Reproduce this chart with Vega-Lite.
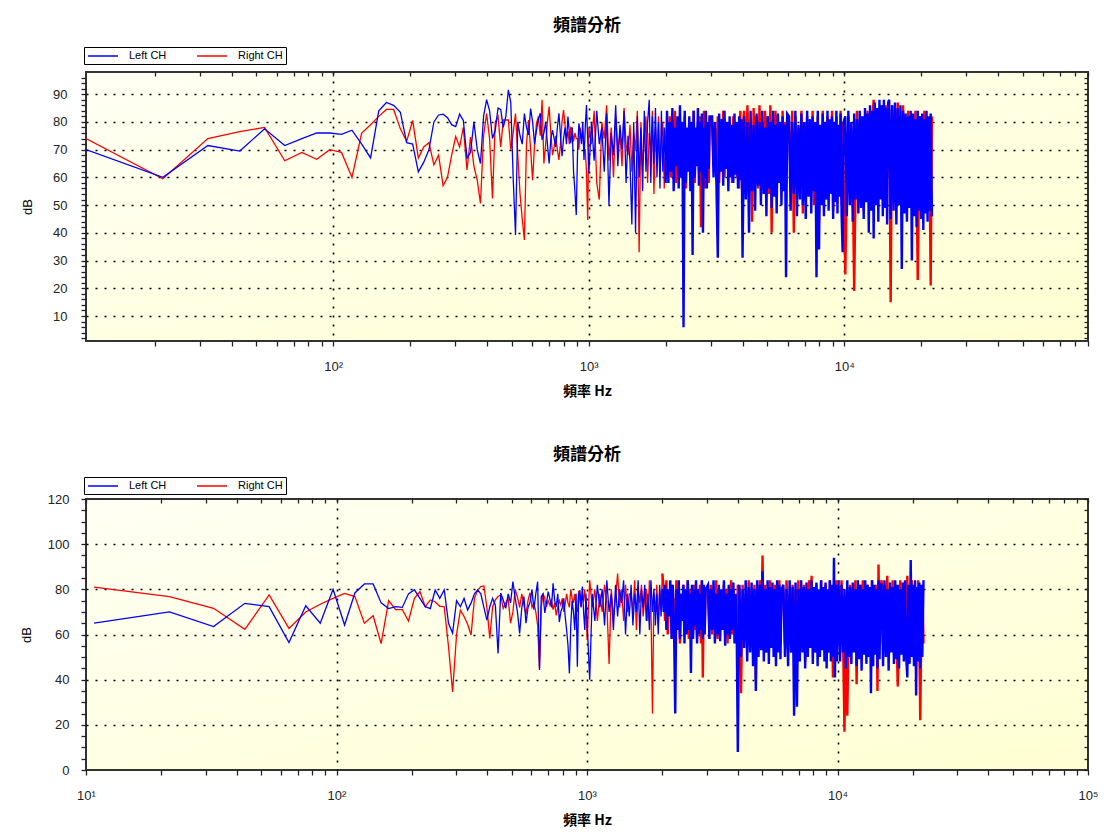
{
"$schema": "https://vega.github.io/schema/vega-lite/v6.json",
"background": "white",
"padding": {"left": 19, "top": 15, "right": 5, "bottom": 5},
"spacing": 46,
"resolve": {"scale": {"color": "independent"}},
"datasets": {"spec": [
{"f":10.77,"a":70,"b":74,"c":65,"d":81},
{"f":21.53,"a":60,"b":59.5,"c":70,"d":76.8},
{"f":32.3,"a":71.5,"b":74,"c":63.5,"d":71.6},
{"f":43.07,"a":69.5,"b":76.5,"c":73.8,"d":62.3},
{"f":53.83,"a":77.5,"b":78,"c":72.3,"d":77.5},
{"f":64.6,"a":71.5,"b":66,"c":56.4,"d":62.7},
{"f":75.37,"a":74,"b":69,"c":72.7,"d":70},
{"f":86.13,"a":76,"b":66.5,"c":65,"d":73.4},
{"f":96.9,"a":76,"b":70,"c":80,"d":76},
{"f":107.7,"a":75.5,"b":69,"c":64.2,"d":78.2},
{"f":118.4,"a":77,"b":60,"c":78.4,"d":76.8},
{"f":129.2,"a":72,"b":76,"c":82.4,"d":65},
{"f":140,"a":67,"b":79,"c":82.4,"d":68.3},
{"f":150.7,"a":84,"b":82,"c":74,"d":56},
{"f":161.5,"a":87,"b":84.5,"c":71.5,"d":75},
{"f":172.3,"a":86,"b":84.5,"c":72.3,"d":71},
{"f":183.1,"a":83.5,"b":77.5,"c":72,"d":71},
{"f":193.8,"a":72.5,"b":73,"c":78,"d":66},
{"f":204.6,"a":72,"b":80.5,"c":79.8,"d":76},
{"f":215.3,"a":62,"b":67,"c":76,"d":79},
{"f":226.1,"a":65.5,"b":71,"c":72.3,"d":72.3},
{"f":236.9,"a":70,"b":72.5,"c":71.5,"d":75.3},
{"f":247.7,"a":80,"b":64.5,"c":79.7,"d":74.5},
{"f":258.4,"a":82.5,"b":68,"c":76,"d":72.5},
{"f":269.2,"a":82.8,"b":57,"c":79.8,"d":72.3},
{"f":280,"a":81.5,"b":60,"c":65,"d":54.6},
{"f":290.7,"a":79,"b":68,"c":60.6,"d":34.6},
{"f":301.5,"a":78.3,"b":74.7,"c":75,"d":60},
{"f":312.3,"a":82.8,"b":71,"c":72.3,"d":70.8},
{"f":323,"a":80.5,"b":78,"c":76,"d":68},
{"f":333.8,"a":67,"b":62.7,"c":70.9,"d":64.5},
{"f":344.6,"a":69,"b":74.5,"c":74,"d":59.8},
{"f":355.3,"a":80,"b":64,"c":78,"d":76},
{"f":366.1,"a":70,"b":59,"c":79.7,"d":79.7},
{"f":376.9,"a":65,"b":50.6,"c":78,"d":81.2},
{"f":387.6,"a":82,"b":75,"c":72,"d":81.5},
{"f":398.4,"a":88,"b":83,"c":66.4,"d":72},
{"f":409.2,"a":84,"b":74,"c":72.3,"d":58.3},
{"f":420,"a":74,"b":52.4,"c":76,"d":72.3},
{"f":430.7,"a":77,"b":80,"c":73,"d":75.3},
{"f":441.5,"a":85,"b":82,"c":51.6,"d":76.8},
{"f":452.3,"a":84.5,"b":71,"c":78.4,"d":77.5},
{"f":463,"a":78,"b":80.7,"c":75.3,"d":71.6},
{"f":473.8,"a":82,"b":80.7,"c":71.6,"d":74},
{"f":484.6,"a":91.6,"b":80.7,"c":78,"d":76},
{"f":495.3,"a":87,"b":70,"c":74,"d":65},
{"f":506.1,"a":60,"b":76,"c":83.4,"d":70},
{"f":516.9,"a":39.2,"b":83,"c":76,"d":80},
{"f":527.6,"a":80,"b":68,"c":70,"d":76.5},
{"f":538.4,"a":75,"b":54,"c":60.5,"d":72},
{"f":549.2,"a":72,"b":45,"c":72,"d":78},
{"f":559.9,"a":83,"b":37.4,"c":76.8,"d":73},
{"f":570.7,"a":78,"b":72,"c":65,"d":69},
{"f":581.5,"a":75.3,"b":80.7,"c":72,"d":75},
{"f":592.2,"a":84.8,"b":70,"c":74.3,"d":78.5},
{"f":603,"a":80,"b":59,"c":80,"d":72},
{"f":613.8,"a":72,"b":72,"c":71,"d":74},
{"f":624.5,"a":77,"b":79.5,"c":78,"d":70},
{"f":635.3,"a":81,"b":82,"c":83.4,"d":64},
{"f":646.1,"a":83.1,"b":75,"c":44.3,"d":45},
{"f":656.8,"a":73.5,"b":88,"c":76.8,"d":72.3},
{"f":667.6,"a":76,"b":65,"c":78,"d":78.2},
{"f":678.4,"a":80,"b":72,"c":69.6,"d":76},
{"f":689.1,"a":72,"b":80,"c":74,"d":72.3},
{"f":699.9,"a":65,"b":85.5,"c":79,"d":75},
{"f":710.7,"a":74,"b":76,"c":76,"d":73},
{"f":721.4,"a":77,"b":68,"c":72,"d":75},
{"f":732.2,"a":74,"b":71,"c":82.7,"d":71},
{"f":743,"a":71,"b":75,"c":75,"d":74},
{"f":753.7,"a":78,"b":70,"c":72.3,"d":68.5},
{"f":764.5,"a":83.1,"b":66.3,"c":78,"d":72},
{"f":775.3,"a":75,"b":72,"c":65.5,"d":75},
{"f":786,"a":67.6,"b":80,"c":70,"d":73},
{"f":796.8,"a":74,"b":84.3,"c":72,"d":76},
{"f":807.6,"a":78,"b":79,"c":76,"d":70},
{"f":818.3,"a":72,"b":74,"c":68,"d":73.6},
{"f":829.1,"a":81.9,"b":76.5,"c":62,"d":78},
{"f":839.9,"a":76,"b":72,"c":55,"d":74},
{"f":850.6,"a":72.3,"b":78,"c":42.8,"d":72},
{"f":861.4,"a":78,"b":77.7,"c":64,"d":80},
{"f":872.2,"a":62,"b":73,"c":75,"d":76},
{"f":882.9,"a":55,"b":76,"c":70,"d":74},
{"f":893.7,"a":46.4,"b":74,"c":62,"d":78},
{"f":904.5,"a":70,"b":74,"c":78,"d":72},
{"f":915.2,"a":79.5,"b":70,"c":45.7,"d":70},
{"f":926,"a":76,"b":78,"c":77,"d":79.3},
{"f":936.8,"a":72,"b":74,"c":79.6,"d":75},
{"f":947.5,"a":80,"b":76.5,"c":72.3,"d":72},
{"f":958.3,"a":66.3,"b":70,"c":81.2,"d":78},
{"f":969.1,"a":78,"b":70,"c":70,"d":74.8},
{"f":979.8,"a":86.1,"b":62,"c":62,"d":80},
{"f":990.6,"a":74,"b":44.6,"c":78,"d":72},
{"f":1001.4,"a":61.5,"b":78,"c":65,"d":57.6},
{"f":1025,"a":80,"b":72,"c":40,"d":84},
{"f":1050,"a":66,"b":84,"c":78,"d":72},
{"f":1075,"a":84,"b":58,"c":66,"d":80},
{"f":1100,"a":72,"b":52,"c":82,"d":66},
{"f":1125,"a":78,"b":80,"c":72,"d":78},
{"f":1150,"a":62,"b":74,"c":80,"d":70},
{"f":1175,"a":83,"b":86,"c":64,"d":82},
{"f":1200,"a":50,"b":66,"c":84,"d":74},
{"f":1225,"a":76,"b":78,"c":70,"d":47},
{"f":1250,"a":68,"b":60,"c":78,"d":80},
{"f":1275,"a":86,"b":82,"c":62,"d":68},
{"f":1300,"a":64,"b":70,"c":82,"d":76},
{"f":1325,"a":79,"b":76,"c":68,"d":87},
{"f":1350,"a":70,"b":64,"c":80,"d":72},
{"f":1375,"a":84,"b":85,"c":74,"d":80},
{"f":1400,"a":58,"b":72,"c":84,"d":66},
{"f":1425,"a":75,"b":68,"c":60,"d":82},
{"f":1450,"a":66,"b":79,"c":78,"d":70},
{"f":1475,"a":43,"b":62,"c":68,"d":78},
{"f":1500,"a":80,"b":76,"c":82,"d":78},
{"f":1525,"a":40,"b":70,"c":64,"d":70},
{"f":1550,"a":82,"b":84,"c":78,"d":84},
{"f":1575,"a":60,"b":33,"c":70,"d":62},
{"f":1600,"a":78,"b":80,"c":84,"d":80},
{"f":1625,"a":55,"b":64,"c":60,"d":74},
{"f":1650,"a":84,"b":74,"c":80,"d":82},
{"f":1675,"a":62,"b":82,"c":72,"d":68},
{"f":1700,"a":80,"b":58,"c":82,"d":76},
{"f":1725,"a":88,"b":76,"c":66,"d":80},
{"f":1750,"a":58,"b":70,"c":78,"d":66},
{"f":1775,"a":82,"b":84,"c":62,"d":84},
{"f":1800,"a":65,"b":54,"c":84,"d":72},
{"f":1825,"a":85,"b":78,"c":70,"d":25},
{"f":1850,"a":60,"b":66,"c":80,"d":78},
{"f":1875,"a":80,"b":82,"c":64,"d":70},
{"f":1900,"a":56,"b":60,"c":78,"d":82},
{"f":1925,"a":84,"b":74,"c":60,"d":64},
{"f":1950,"a":62,"b":80,"c":82,"d":80},
{"f":1975,"a":78,"b":56,"c":68,"d":72},
{"f":2000,"a":58,"b":72,"c":80,"d":87},
{"f":2025,"a":84,"b":78,"c":70,"d":80},
{"f":2050,"a":58,"b":66,"c":82,"d":66},
{"f":2075,"a":80,"b":82,"c":62,"d":84},
{"f":2100,"a":62,"b":60,"c":80,"d":60},
{"f":2125,"a":85,"b":76,"c":68,"d":78},
{"f":2150,"a":55,"b":70,"c":84,"d":70},
{"f":2175,"a":78,"b":84,"c":58,"d":82},
{"f":2200,"a":64,"b":58,"c":82,"d":58},
{"f":2225,"a":82,"b":80,"c":64,"d":76},
{"f":2250,"a":56,"b":65,"c":25,"d":68},
{"f":2275,"a":86,"b":78,"c":80,"d":84},
{"f":2300,"a":60,"b":62,"c":62,"d":62},
{"f":2325,"a":80,"b":74,"c":84,"d":80},
{"f":2350,"a":6,"b":68,"c":58,"d":56},
{"f":2375,"a":84,"b":82,"c":78,"d":78},
{"f":2400,"a":58,"b":56,"c":66,"d":72},
{"f":2425,"a":78,"b":76,"c":82,"d":82},
{"f":2450,"a":62,"b":64,"c":56,"d":60},
{"f":2475,"a":82,"b":80,"c":80,"d":76},
{"f":2500,"a":55,"b":60,"c":60,"d":64},
{"f":2525,"a":80,"b":78,"c":84,"d":84},
{"f":2550,"a":32,"b":66,"c":62,"d":58},
{"f":2575,"a":84,"b":84,"c":78,"d":80},
{"f":2600,"a":60,"b":58,"c":43,"d":66},
{"f":2625,"a":78,"b":76,"c":82,"d":78},
{"f":2650,"a":64,"b":70,"c":58,"d":60},
{"f":2675,"a":85,"b":80,"c":80,"d":82},
{"f":2700,"a":57,"b":62,"c":64,"d":62},
{"f":2725,"a":80,"b":82,"c":84,"d":76},
{"f":2750,"a":62,"b":42,"c":56,"d":58},
{"f":2775,"a":83,"b":76,"c":80,"d":80},
{"f":2800,"a":40,"b":60,"c":60,"d":64},
{"f":2825,"a":78,"b":84,"c":78,"d":82},
{"f":2850,"a":60,"b":56,"c":62,"d":56},
{"f":2875,"a":84,"b":78,"c":84,"d":84},
{"f":2900,"a":56,"b":64,"c":58,"d":41},
{"f":2925,"a":80,"b":80,"c":82,"d":78},
{"f":2950,"a":63,"b":58,"c":60,"d":62},
{"f":2975,"a":82,"b":82,"c":80,"d":80},
{"f":3040,"a":82,"b":80,"c":82,"d":80},
{"f":3080,"a":60,"b":66,"c":58,"d":64},
{"f":3120,"a":80,"b":78,"c":80,"d":82},
{"f":3160,"a":58,"b":62,"c":62,"d":60},
{"f":3200,"a":31,"b":82,"c":84,"d":78},
{"f":3240,"a":83,"b":58,"c":56,"d":66},
{"f":3280,"a":62,"b":76,"c":78,"d":84},
{"f":3320,"a":81,"b":64,"c":60,"d":58},
{"f":3360,"a":57,"b":84,"c":82,"d":80},
{"f":3400,"a":84,"b":60,"c":57,"d":62},
{"f":3440,"a":63,"b":78,"c":80,"d":78},
{"f":3480,"a":80,"b":66,"c":62,"d":64},
{"f":3520,"a":55,"b":80,"c":84,"d":82},
{"f":3560,"a":82,"b":62,"c":55,"d":60},
{"f":3600,"a":60,"b":76,"c":78,"d":80},
{"f":3640,"a":79,"b":58,"c":60,"d":56},
{"f":3680,"a":58,"b":82,"c":82,"d":78},
{"f":3720,"a":83,"b":64,"c":58,"d":62},
{"f":3760,"a":61,"b":78,"c":80,"d":84},
{"f":3800,"a":80,"b":60,"c":62,"d":60},
{"f":3840,"a":56,"b":80,"c":83,"d":80},
{"f":3880,"a":82,"b":56,"c":56,"d":64},
{"f":3920,"a":59,"b":84,"c":78,"d":76},
{"f":3960,"a":81,"b":62,"c":60,"d":58},
{"f":4000,"a":31,"b":78,"c":8,"d":82},
{"f":4060,"a":82,"b":84,"c":82,"d":80},
{"f":4120,"a":52,"b":58,"c":50,"d":34},
{"f":4180,"a":80,"b":86,"c":80,"d":82},
{"f":4240,"a":40,"b":62,"c":54,"d":60},
{"f":4300,"a":84,"b":80,"c":84,"d":78},
{"f":4360,"a":55,"b":44,"c":48,"d":56},
{"f":4420,"a":79,"b":85,"c":81,"d":84},
{"f":4480,"a":48,"b":60,"c":52,"d":58},
{"f":4540,"a":83,"b":82,"c":83,"d":80},
{"f":4600,"a":57,"b":56,"c":46,"d":54},
{"f":4660,"a":80,"b":86,"c":80,"d":82},
{"f":4720,"a":50,"b":64,"c":35,"d":40},
{"f":4780,"a":84,"b":80,"c":84,"d":80},
{"f":4840,"a":54,"b":58,"c":50,"d":58},
{"f":4900,"a":78,"b":84,"c":82,"d":84},
{"f":4960,"a":46,"b":60,"c":53,"d":56},
{"f":5020,"a":82,"b":82,"c":88,"d":95},
{"f":5080,"a":56,"b":54,"c":48,"d":60},
{"f":5140,"a":80,"b":86,"c":80,"d":82},
{"f":5200,"a":49,"b":40,"c":52,"d":52},
{"f":5260,"a":84,"b":80,"c":84,"d":80},
{"f":5320,"a":53,"b":62,"c":47,"d":58},
{"f":5380,"a":79,"b":84,"c":81,"d":84},
{"f":5440,"a":47,"b":58,"c":54,"d":56},
{"f":5500,"a":83,"b":82,"c":83,"d":80},
{"f":5560,"a":58,"b":60,"c":50,"d":60},
{"f":5620,"a":80,"b":78,"c":80,"d":82},
{"f":5680,"a":50,"b":56,"c":46,"d":54},
{"f":5740,"a":82,"b":84,"c":84,"d":78},
{"f":5800,"a":55,"b":62,"c":52,"d":58},
{"f":5860,"a":79,"b":80,"c":82,"d":84},
{"f":5920,"a":24,"b":58,"c":49,"d":56},
{"f":5980,"a":83,"b":82,"c":80,"d":80},
{"f":6080,"a":82,"b":80,"c":82,"d":80},
{"f":6170,"a":48,"b":60,"c":50,"d":56},
{"f":6260,"a":80,"b":84,"c":80,"d":84},
{"f":6350,"a":54,"b":40,"c":46,"d":60},
{"f":6440,"a":84,"b":82,"c":84,"d":78},
{"f":6530,"a":46,"b":56,"c":52,"d":52},
{"f":6620,"a":79,"b":78,"c":81,"d":82},
{"f":6710,"a":52,"b":62,"c":24,"d":58},
{"f":6800,"a":83,"b":84,"c":83,"d":80},
{"f":6890,"a":50,"b":47,"c":28,"d":62},
{"f":6980,"a":80,"b":80,"c":80,"d":84},
{"f":7070,"a":45,"b":58,"c":48,"d":54},
{"f":7160,"a":84,"b":82,"c":84,"d":78},
{"f":7250,"a":53,"b":54,"c":52,"d":60},
{"f":7340,"a":81,"b":78,"c":81,"d":82},
{"f":7430,"a":47,"b":60,"c":45,"d":48},
{"f":7520,"a":82,"b":84,"c":83,"d":80},
{"f":7610,"a":55,"b":50,"c":50,"d":58},
{"f":7700,"a":80,"b":80,"c":80,"d":84},
{"f":7790,"a":24,"b":62,"c":54,"d":56},
{"f":7880,"a":84,"b":82,"c":84,"d":86},
{"f":7970,"a":34,"b":44,"c":47,"d":60},
{"f":8060,"a":79,"b":78,"c":81,"d":80},
{"f":8150,"a":50,"b":58,"c":52,"d":52},
{"f":8240,"a":83,"b":84,"c":83,"d":82},
{"f":8330,"a":46,"b":60,"c":46,"d":58},
{"f":8420,"a":80,"b":80,"c":80,"d":78},
{"f":8510,"a":52,"b":52,"c":50,"d":62},
{"f":8600,"a":84,"b":82,"c":84,"d":84},
{"f":8690,"a":48,"b":56,"c":53,"d":54},
{"f":8780,"a":81,"b":78,"c":81,"d":80},
{"f":8870,"a":54,"b":62,"c":48,"d":58},
{"f":8960,"a":82,"b":84,"c":83,"d":82},
{"f":9050,"a":45,"b":48,"c":45,"d":60},
{"f":9140,"a":80,"b":80,"c":80,"d":78},
{"f":9230,"a":51,"b":58,"c":52,"d":52},
{"f":9320,"a":84,"b":82,"c":84,"d":84},
{"f":9410,"a":47,"b":54,"c":48,"d":56},
{"f":9500,"a":79,"b":78,"c":82,"d":80},
{"f":9590,"a":53,"b":60,"c":50,"d":41},
{"f":9680,"a":83,"b":84,"c":94,"d":82},
{"f":9770,"a":46,"b":50,"c":41,"d":58},
{"f":9860,"a":33,"b":80,"c":82,"d":84},
{"f":9950,"a":80,"b":58,"c":48,"d":60},
{"f":10100,"a":82,"b":25,"c":84,"d":80},
{"f":10240,"a":46,"b":60,"c":48,"d":58},
{"f":10380,"a":84,"b":82,"c":82,"d":84},
{"f":10520,"a":50,"b":56,"c":52,"d":60},
{"f":10660,"a":80,"b":78,"c":80,"d":17},
{"f":10800,"a":44,"b":62,"c":45,"d":56},
{"f":10940,"a":83,"b":19,"c":84,"d":24},
{"f":11080,"a":52,"b":58,"c":50,"d":62},
{"f":11220,"a":81,"b":84,"c":81,"d":82},
{"f":11360,"a":47,"b":54,"c":47,"d":54},
{"f":11500,"a":84,"b":80,"c":83,"d":80},
{"f":11640,"a":49,"b":60,"c":52,"d":58},
{"f":11780,"a":82,"b":82,"c":80,"d":84},
{"f":11920,"a":45,"b":48,"c":46,"d":38},
{"f":12060,"a":85,"b":78,"c":84,"d":78},
{"f":12200,"a":51,"b":62,"c":49,"d":60},
{"f":12340,"a":83,"b":84,"c":82,"d":82},
{"f":12480,"a":40,"b":56,"c":44,"d":56},
{"f":12620,"a":86,"b":80,"c":80,"d":84},
{"f":12760,"a":48,"b":58,"c":51,"d":52},
{"f":12900,"a":84,"b":82,"c":84,"d":80},
{"f":13040,"a":38,"b":88,"c":47,"d":60},
{"f":13180,"a":87,"b":80,"c":82,"d":82},
{"f":13320,"a":50,"b":60,"c":50,"d":58},
{"f":13460,"a":85,"b":84,"c":81,"d":78},
{"f":13600,"a":44,"b":54,"c":34,"d":56},
{"f":13740,"a":88,"b":82,"c":84,"d":84},
{"f":13880,"a":52,"b":62,"c":46,"d":62},
{"f":14020,"a":86,"b":86,"c":82,"d":80},
{"f":14160,"a":46,"b":58,"c":51,"d":58},
{"f":14300,"a":88,"b":84,"c":80,"d":82},
{"f":14440,"a":49,"b":56,"c":45,"d":35},
{"f":14580,"a":85,"b":86,"c":84,"d":91},
{"f":14720,"a":43,"b":60,"c":49,"d":56},
{"f":14860,"a":87,"b":84,"c":82,"d":82},
{"f":15000,"a":88,"b":84,"c":82,"d":84},
{"f":15200,"a":45,"b":15,"c":46,"d":56},
{"f":15400,"a":86,"b":86,"c":84,"d":82},
{"f":15600,"a":48,"b":56,"c":50,"d":60},
{"f":15800,"a":87,"b":84,"c":80,"d":86},
{"f":16000,"a":43,"b":60,"c":44,"d":54},
{"f":16200,"a":85,"b":87,"c":83,"d":80},
{"f":16400,"a":50,"b":54,"c":52,"d":58},
{"f":16600,"a":86,"b":82,"c":81,"d":84},
{"f":16800,"a":27,"b":58,"c":47,"d":52},
{"f":17000,"a":84,"b":86,"c":84,"d":82},
{"f":17200,"a":47,"b":52,"c":49,"d":60},
{"f":17400,"a":83,"b":80,"c":82,"d":37},
{"f":17600,"a":44,"b":60,"c":45,"d":56},
{"f":17800,"a":82,"b":84,"c":80,"d":84},
{"f":18000,"a":49,"b":56,"c":51,"d":58},
{"f":18200,"a":84,"b":82,"c":83,"d":80},
{"f":18400,"a":30,"b":58,"c":48,"d":54},
{"f":18600,"a":83,"b":80,"c":84,"d":82},
{"f":18800,"a":46,"b":54,"c":50,"d":60},
{"f":19000,"a":81,"b":84,"c":41,"d":86},
{"f":19200,"a":42,"b":60,"c":82,"d":56},
{"f":19400,"a":84,"b":23,"c":47,"d":80},
{"f":19600,"a":48,"b":56,"c":93,"d":58},
{"f":19800,"a":82,"b":82,"c":50,"d":84},
{"f":20000,"a":45,"b":58,"c":82,"d":52},
{"f":20200,"a":83,"b":80,"c":46,"d":82},
{"f":20400,"a":41,"b":52,"c":84,"d":60},
{"f":20600,"a":81,"b":84,"c":33,"d":80},
{"f":20800,"a":47,"b":56,"c":81,"d":56},
{"f":21000,"a":84,"b":82,"c":48,"d":84},
{"f":21200,"a":44,"b":58,"c":83,"d":58},
{"f":21400,"a":82,"b":80,"c":45,"d":22},
{"f":21600,"a":48,"b":60,"c":82,"d":60},
{"f":21800,"a":83,"b":21,"c":50,"d":82},
{"f":22050,"a":46,"b":82,"c":84,"d":56}
]},
"config": {
  "view": {"stroke": "#333333", "strokeWidth": 2, "fill": {"gradient": "linear", "x1": 0, "y1": 0, "x2": 1, "y2": 1, "stops": [{"offset": 0, "color": "#fffff4"}, {"offset": 1, "color": "#ffffd2"}]}},
  "axis": {"domain": false, "labelFont": "Liberation Sans", "labelFontSize": 13, "labelColor": "#222222", "tickColor": "#222222", "tickWidth": 1.3, "gridColor": "#000000", "gridDash": [2, 7], "gridWidth": 1.6, "titleColor": "#000000"},
  "legend": {"labelFont": "Liberation Sans", "labelFontSize": 11, "labelColor": "#000000"},
  "title": {"font": "Noto Sans CJK TC", "fontSize": 17, "fontWeight": "bold", "color": "#000000"}
},
"vconcat": [
{
  "width": 1002, "height": 269,
  "title": {"text": "頻譜分析", "offset": 12},
  "data": {"name": "spec"},
  "transform": [{"fold": ["a", "b"], "as": ["ch", "dB"]}],
  "encoding": {
    "color": {"field": "ch", "type": "nominal", "scale": {"domain": ["a", "b"], "range": ["#0000ff", "#ff0000"]},
      "legend": {"orient": "none", "legendX": -2, "legendY": -25, "direction": "horizontal", "title": null,
        "labelExpr": "datum.label == 'a' ? 'Left CH' : 'Right CH'", "symbolType": "M-1,0H5", "symbolSize": 100, "symbolStrokeWidth": 1.5,
        "strokeColor": "#000000", "fillColor": "#ffffff", "padding": 3, "columnPadding": 27, "labelOffset": 30}}
  },
  "layer": [
    {
      "transform": [{"filter": "datum.ch == 'b' && datum.f <= 2000"}],
      "mark": {"type": "line", "clip": true, "strokeWidth": 1.3},
      "encoding": {
        "x": {"field": "f", "type": "quantitative", "scale": {"type": "log", "domain": [10.77, 90000], "nice": false},
          "axis": {"orient": "bottom", "values": [20,30,40,50,60,70,80,90,100,200,300,400,500,600,700,800,900,1000,2000,3000,4000,5000,6000,7000,8000,9000,10000,20000,30000,40000,50000,60000,70000,80000,90000],
            "labelExpr": "datum.value == 10 ? '10¹' : datum.value == 100 ? '10²' : datum.value == 1000 ? '10³' : datum.value == 10000 ? '10⁴' : datum.value == 100000 ? '10⁵' : ''",
            "labelOverlap": false, "labelFlush": false, "tickSize": 5, "labelPadding": 14,
            "grid": true, "gridOpacity": {"condition": {"test": "datum.value == 100 || datum.value == 1000 || datum.value == 10000", "value": 1}, "value": 0},
            "title": "頻率 Hz", "titleFont": "Noto Sans CJK TC", "titleFontSize": 14, "titleFontWeight": "bold", "titlePadding": 11}},
        "y": {"field": "dB", "type": "quantitative", "scale": {"domain": [1, 98], "nice": false, "zero": false},
          "axis": {"orient": "left", "values": [2,4,6,8,10,12,14,16,18,20,22,24,26,28,30,32,34,36,38,40,42,44,46,48,50,52,54,56,58,60,62,64,66,68,70,72,74,76,78,80,82,84,86,88,90,92,94,96],
            "labelExpr": "datum.value % 10 == 0 ? datum.label : ''", "labelOverlap": false, "labelFlush": false,
            "tickSize": 5, "labelPadding": 14,
            "grid": true, "gridOpacity": {"condition": {"test": "datum.value % 10 == 0", "value": 1}, "value": 0},
            "title": "dB", "titleFont": "Liberation Sans", "titleFontSize": 13, "titleFontWeight": "normal", "titlePadding": 18}}
      }
    },
    {
      "transform": [{"filter": "datum.ch == 'b' && datum.f >= 2000"}],
      "mark": {"type": "line", "clip": true, "strokeWidth": 2.4},
      "encoding": {
        "x": {"field": "f", "type": "quantitative", "axis": null},
        "y": {"field": "dB", "type": "quantitative", "axis": null}
      }
    },
    {
      "transform": [{"filter": "datum.ch == 'a' && datum.f <= 2000"}],
      "mark": {"type": "line", "clip": true, "strokeWidth": 1.3},
      "encoding": {
        "x": {"field": "f", "type": "quantitative", "axis": null},
        "y": {"field": "dB", "type": "quantitative", "axis": null}
      }
    },
    {
      "transform": [{"filter": "datum.ch == 'a' && datum.f >= 2000"}],
      "mark": {"type": "line", "clip": true, "strokeWidth": 2.4},
      "encoding": {
        "x": {"field": "f", "type": "quantitative",
          "axis": {"orient": "top", "values": [20,30,40,50,60,70,80,90,100,200,300,400,500,600,700,800,900,1000,2000,3000,4000,5000,6000,7000,8000,9000,10000,20000,30000,40000,50000,60000,70000,80000,90000],
            "labels": false, "tickSize": -4, "grid": false, "title": null}},
        "y": {"field": "dB", "type": "quantitative",
          "axis": {"orient": "right", "values": [2,4,6,8,10,12,14,16,18,20,22,24,26,28,30,32,34,36,38,40,42,44,46,48,50,52,54,56,58,60,62,64,66,68,70,72,74,76,78,80,82,84,86,88,90,92,94,96],
            "labels": false, "tickSize": -4, "grid": false, "title": null}}
      }
    }
  ],
  "resolve": {"axis": {"x": "independent", "y": "independent"}}
},
{
  "width": 1002, "height": 271,
  "title": {"text": "頻譜分析", "offset": 12.5},
  "data": {"name": "spec"},
  "transform": [{"fold": ["c", "d"], "as": ["ch", "dB"]}],
  "encoding": {
    "color": {"field": "ch", "type": "nominal", "scale": {"domain": ["c", "d"], "range": ["#0000ff", "#ff0000"]},
      "legend": {"orient": "none", "legendX": -2, "legendY": -22, "direction": "horizontal", "title": null,
        "labelExpr": "datum.label == 'c' ? 'Left CH' : 'Right CH'", "symbolType": "M-1,0H5", "symbolSize": 100, "symbolStrokeWidth": 1.5,
        "strokeColor": "#000000", "fillColor": "#ffffff", "padding": 3, "columnPadding": 27, "labelOffset": 30}}
  },
  "layer": [
    {
      "transform": [{"filter": "datum.ch == 'd' && datum.f <= 2000"}],
      "mark": {"type": "line", "clip": true, "strokeWidth": 1.3},
      "encoding": {
        "x": {"field": "f", "type": "quantitative", "scale": {"type": "log", "domain": [10, 100000], "nice": false},
          "axis": {"orient": "bottom", "values": [10,20,30,40,50,60,70,80,90,100,200,300,400,500,600,700,800,900,1000,2000,3000,4000,5000,6000,7000,8000,9000,10000,20000,30000,40000,50000,60000,70000,80000,90000,100000],
            "labelExpr": "datum.value == 10 ? '10¹' : datum.value == 100 ? '10²' : datum.value == 1000 ? '10³' : datum.value == 10000 ? '10⁴' : datum.value == 100000 ? '10⁵' : ''",
            "labelOverlap": false, "labelFlush": false, "tickSize": 5, "labelPadding": 14,
            "grid": true, "gridOpacity": {"condition": {"test": "datum.value == 100 || datum.value == 1000 || datum.value == 10000", "value": 1}, "value": 0},
            "title": "頻率 Hz", "titleFont": "Noto Sans CJK TC", "titleFontSize": 14, "titleFontWeight": "bold", "titlePadding": 11}},
        "y": {"field": "dB", "type": "quantitative", "scale": {"domain": [0, 120], "nice": false, "zero": false},
          "axis": {"orient": "left", "values": [0,5,10,15,20,25,30,35,40,45,50,55,60,65,70,75,80,85,90,95,100,105,110,115,120],
            "labelExpr": "datum.value % 20 == 0 ? datum.label : ''", "labelOverlap": false, "labelFlush": false,
            "tickSize": 5, "labelPadding": 12,
            "grid": true, "gridOpacity": {"condition": {"test": "datum.value % 20 == 0 && datum.value > 0 && datum.value < 120", "value": 1}, "value": 0},
            "title": "dB", "titleFont": "Liberation Sans", "titleFontSize": 13, "titleFontWeight": "normal", "titlePadding": 14}}
      }
    },
    {
      "transform": [{"filter": "datum.ch == 'd' && datum.f >= 2000"}],
      "mark": {"type": "line", "clip": true, "strokeWidth": 2.4},
      "encoding": {
        "x": {"field": "f", "type": "quantitative", "axis": null},
        "y": {"field": "dB", "type": "quantitative", "axis": null}
      }
    },
    {
      "transform": [{"filter": "datum.ch == 'c' && datum.f <= 2000"}],
      "mark": {"type": "line", "clip": true, "strokeWidth": 1.3},
      "encoding": {
        "x": {"field": "f", "type": "quantitative", "axis": null},
        "y": {"field": "dB", "type": "quantitative", "axis": null}
      }
    },
    {
      "transform": [{"filter": "datum.ch == 'c' && datum.f >= 2000"}],
      "mark": {"type": "line", "clip": true, "strokeWidth": 2.4},
      "encoding": {
        "x": {"field": "f", "type": "quantitative",
          "axis": {"orient": "top", "values": [10,20,30,40,50,60,70,80,90,100,200,300,400,500,600,700,800,900,1000,2000,3000,4000,5000,6000,7000,8000,9000,10000,20000,30000,40000,50000,60000,70000,80000,90000,100000],
            "labels": false, "tickSize": -4, "grid": false, "title": null}},
        "y": {"field": "dB", "type": "quantitative",
          "axis": {"orient": "right", "values": [0,5,10,15,20,25,30,35,40,45,50,55,60,65,70,75,80,85,90,95,100,105,110,115,120],
            "labels": false, "tickSize": -4, "grid": false, "title": null}}
      }
    }
  ],
  "resolve": {"axis": {"x": "independent", "y": "independent"}}
}
]
}
